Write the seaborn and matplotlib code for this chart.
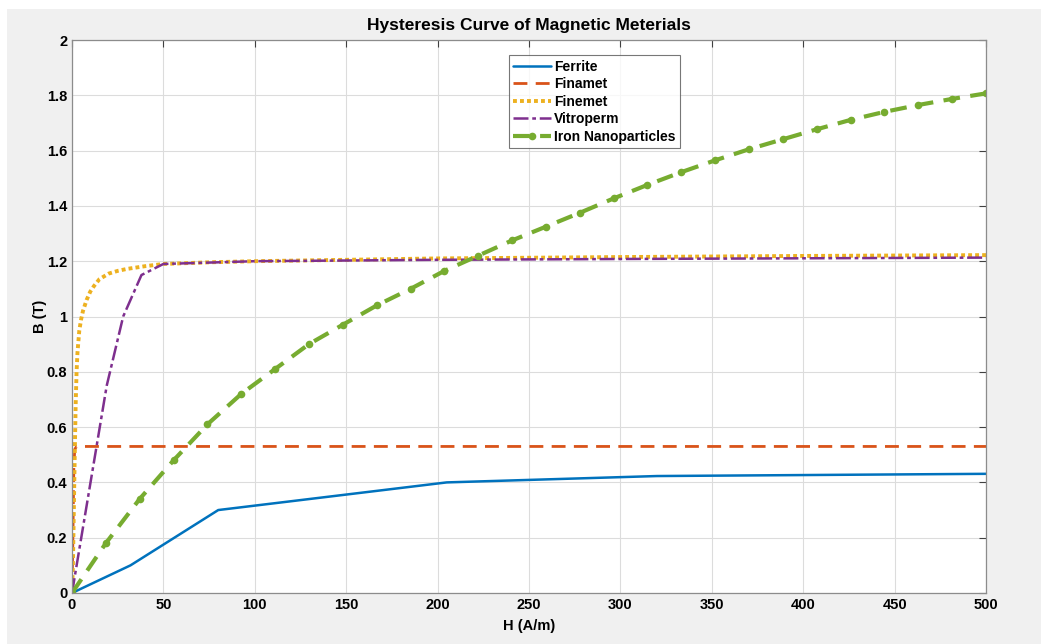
import matplotlib
matplotlib.use("Agg")
import matplotlib.pyplot as plt
import seaborn as sns
import pandas as pd

# ── Data ──────────────────────────────────────────────────────────────────
ferrite_h = [0, 32, 80, 205, 320, 500]
ferrite_b = [0, 0.10, 0.30, 0.40, 0.423, 0.431]

finamet_h = [0, 0.5, 1, 1.5, 2.5, 500]
finamet_b = [0, 0.2, 0.45, 0.52, 0.53, 0.53]

finemet_h = [0, 0.5, 1, 1.5, 2, 2.5, 3, 4, 5, 6, 8, 10, 12, 15, 20, 25, 30,
             40, 50, 75, 100, 150, 200, 300, 400, 500]
finemet_b = [0, 0.10, 0.30, 0.50, 0.68, 0.80, 0.87, 0.95, 0.99, 1.02, 1.06,
             1.09, 1.11, 1.135, 1.155, 1.165, 1.172, 1.182, 1.19, 1.196, 1.20,
             1.205, 1.21, 1.215, 1.219, 1.222]

vitro_h = [0, 19, 28, 38, 50, 100, 200, 300, 500]
vitro_b = [0, 0.75, 1.00, 1.15, 1.19, 1.20, 1.205, 1.208, 1.213]

iron_h = [0, 18.5, 37, 55.6, 74.1, 92.6, 111.1, 129.6, 148.1, 166.7, 185.2,
          203.7, 222.2, 240.7, 259.3, 277.8, 296.3, 314.8, 333.3, 351.9, 370.4,
          388.9, 407.4, 425.9, 444.4, 463, 481.5, 500]
iron_b = [0, 0.18, 0.34, 0.48, 0.61, 0.72, 0.81, 0.90, 0.97, 1.04, 1.10,
          1.165, 1.22, 1.275, 1.325, 1.375, 1.427, 1.476, 1.522, 1.565, 1.605,
          1.641, 1.677, 1.711, 1.74, 1.765, 1.787, 1.807]

x_ticks = list(range(0, 501, 50))
y_ticks = [0, 0.2, 0.4, 0.6, 0.8, 1, 1.2, 1.4, 1.6, 1.8, 2]
y_ticklabels = ["0", "0.2", "0.4", "0.6", "0.8", "1", "1.2", "1.4", "1.6", "1.8", "2"]

# ── Style ─────────────────────────────────────────────────────────────────
sns.set_style("white")
plt.rcParams["font.family"] = ["Liberation Sans", "DejaVu Sans"]
plt.rcParams["font.weight"] = "bold"
plt.rcParams["text.color"] = "black"

W, H = 1041, 644
fig = plt.figure(figsize=(W / 100, H / 100), dpi=100, facecolor="white")
# grey window area (screenshot has a thin white strip top/left)
fig.patches.append(plt.Rectangle((7 / W, 0), 1, 1 - 9 / H, transform=fig.transFigure,
                                 facecolor="#f0f0f0", edgecolor="none", zorder=-10))
ax = fig.add_axes([72 / W, 1 - 593 / H, 914 / W, 553 / H])
ax.set_facecolor("white")

series = [
    ("Ferrite", ferrite_h, ferrite_b, dict(color="#0072BD", lw=1.8, ls="-")),
    ("Finamet", finamet_h, finamet_b, dict(color="#D95319", lw=2.0, ls=(0, (5, 3)))),
    ("Finemet", finemet_h, finemet_b, dict(color="#EDB120", lw=2.8, ls=(0, (1, 0.8)))),
    ("Vitroperm", vitro_h, vitro_b, dict(color="#7E2F8E", lw=1.8, ls=(0, (6, 1.5, 1.5, 1.5)))),
    ("Iron Nanoparticles", iron_h, iron_b,
     dict(color="#77AC30", lw=3.0, ls=(0, (4, 2.5)), marker="o", markersize=5.5,
          markeredgewidth=0)),
]

for name, h, b, kw in series:
    df = pd.DataFrame({"H": h, "B": b})
    sns.lineplot(data=df, x="H", y="B", ax=ax, label=name, sort=False,
                 estimator=None, **kw)

ax.set_xlim(0, 500)
ax.set_ylim(0, 2)
ax.set_xticks(x_ticks)
ax.set_yticks(y_ticks)
ax.set_yticklabels(y_ticklabels)
ax.grid(True, color="#dcdcdc", lw=0.8)
ax.set_axisbelow(True)
ax.tick_params(direction="in", length=5, width=0.8, top=True, right=True,
               labelsize=10.5, colors="#404040", labelcolor="black")
for lab in ax.get_xticklabels() + ax.get_yticklabels():
    lab.set_fontweight("bold")
for sp in ax.spines.values():
    sp.set_visible(True)
    sp.set_color("#8c8c8c")
    sp.set_linewidth(0.9)

ax.set_xlabel("H (A/m)", fontsize=10.5, fontweight="bold", labelpad=5, color="black")
ax.set_ylabel("B (T)", fontsize=10.5, fontweight="bold", labelpad=0, color="black")
ax.set_title("Hysteresis Curve of Magnetic Meterials", fontsize=12.5,
             fontweight="bold", pad=7, color="black")

leg = ax.legend(loc="upper left", bbox_to_anchor=(0.478, 0.972), fontsize=10,
                frameon=True, fancybox=False, borderpad=0.3, labelspacing=0.25,
                handlelength=2.7, handletextpad=0.25, borderaxespad=0)
leg.get_frame().set_edgecolor("#555555")
leg.get_frame().set_linewidth(0.8)
for t in leg.get_texts():
    t.set_fontweight("bold")
    t.set_color("black")

fig.savefig("out.png", dpi=100, facecolor=fig.get_facecolor())
